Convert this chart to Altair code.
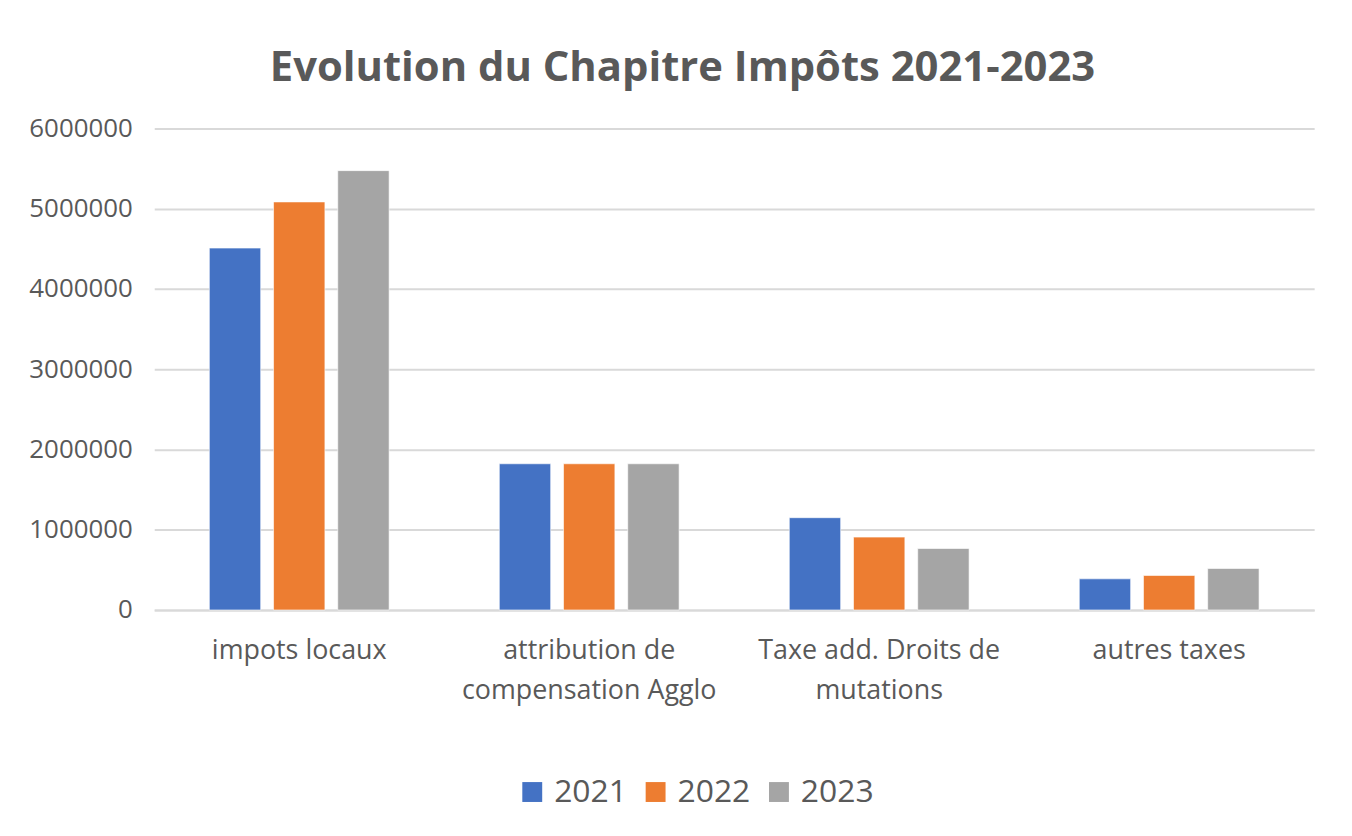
import altair as alt
import pandas as pd

categories = ["impots locaux", "attribution de|compensation Agglo", "Taxe add. Droits de|mutations", "autres taxes"]
years = ["2021", "2022", "2023"]
v2021 = [4510000, 1822000, 1150000, 388000]
v2022 = [5085000, 1822000, 908000, 430000]
v2023 = [5475000, 1822000, 766000, 517000]

rows = []
for i, c in enumerate(categories):
    for y, vals in zip(years, [v2021, v2022, v2023]):
        rows.append({"cat": c, "year": y, "value": vals[i]})
df = pd.DataFrame(rows)

grey = "#595959"
colors = ["#4472C4", "#ED7D31", "#A5A5A5"]

chart = alt.Chart(df).mark_bar(stroke="white", strokeWidth=1, strokeOpacity=0.6).encode(
    x=alt.X("cat:N", sort=categories, title=None,
            scale=alt.Scale(paddingInner=0.38, paddingOuter=0.19),
            axis=alt.Axis(labelAngle=0, labelExpr="split(datum.label, '|')",
                          labelFontSize=27, labelColor=grey, labelFont="Open Sans",
                          labelPadding=28, labelLineHeight=40, ticks=False, domainColor="#d9d9d9",
                          domainWidth=2, labelLimit=400)),
    xOffset=alt.XOffset("year:N", sort=years, scale=alt.Scale(paddingInner=0.2)),
    y=alt.Y("value:Q", title=None,
            scale=alt.Scale(domain=[0, 6000000]),
            axis=alt.Axis(values=[0, 1000000, 2000000, 3000000, 4000000, 5000000, 6000000],
                          format="d", labelFontSize=26, labelColor=grey, labelFont="Open Sans",
                          labelPadding=22, ticks=False, domain=False,
                          gridColor="#d9d9d9", gridWidth=2)),
    color=alt.Color("year:N", sort=years, scale=alt.Scale(domain=years, range=colors),
                    legend=alt.Legend(title=None, orient="none", direction="horizontal",
                                      legendX=364, legendY=651, symbolType="square",
                                      symbolSize=400, symbolStrokeWidth=0, labelFontSize=32,
                                      labelColor=grey, labelFont="Open Sans", columnPadding=12,
                                      labelOffset=6)),
).properties(
    width=1166, height=484,
    title=alt.TitleParams("Evolution du Chapitre Impôts 2021-2023", fontSize=42,
                          font="Open Sans", fontWeight="bold", color=grey,
                          anchor="middle", dx=-52, offset=26),
    autosize=alt.AutoSizeParams(type="none"),
    padding={"left": 147, "top": 119, "right": 30, "bottom": 210},
).configure_view(stroke=None)

chart.save("out.html", embed_options={"renderer": "svg", "actions": False})
